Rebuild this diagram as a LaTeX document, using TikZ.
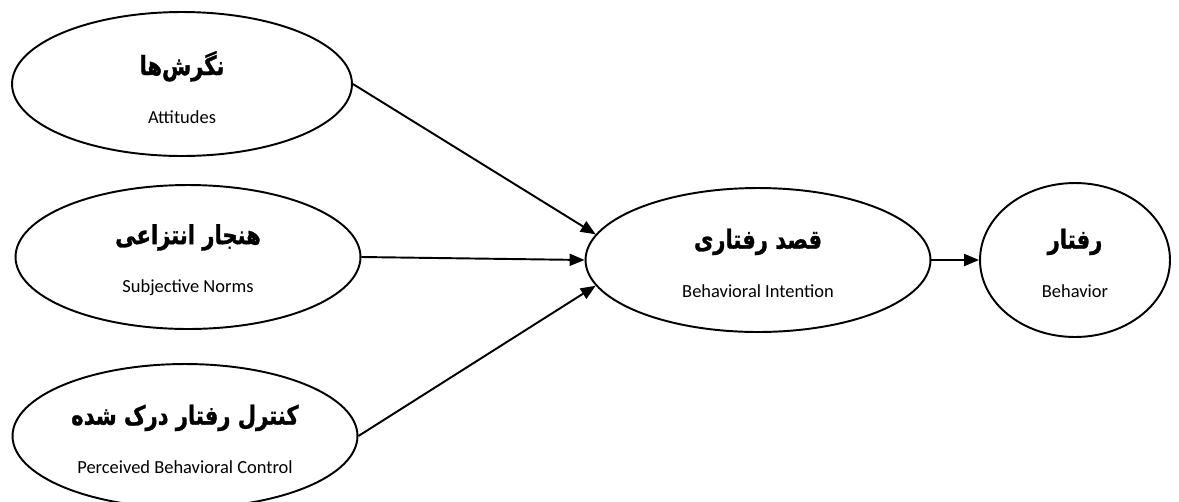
\documentclass[tikz,border=0pt]{standalone}
\usepackage{fontspec}
\setmainfont{Carlito}
\newfontfamily\fa[Script=Arabic,FakeStretch=0.8,BoldFeatures={FakeBold=1.2}]{DejaVu Sans}
\TeXXeTstate=1
\usetikzlibrary{shapes.geometric,arrows.meta}
\tikzset{
  oval/.style={draw, ellipse, line width=1.1pt, inner sep=0pt, align=center,
    minimum width=6.9cm, minimum height=2.88cm},
  link/.style={line width=1.1pt, -{Triangle[length=3mm,width=2.4mm]}}
}
\newcommand{\twolines}[2]{\\[1mm]{\fa\bfseries\fontsize{15}{17}\selectfont\beginR #1\endR}\\[5.5mm]{\fontsize{10.5}{12}\selectfont #2}}
\begin{document}
\begin{tikzpicture}[x=0.02cm, y=-0.02cm]
  \useasboundingbox (0,0) rectangle (1179,501);

  % Inputs
  \node[oval, minimum width=6.8cm] (att) at (182,84) {\twolines{نگرش‌ها}{Attitudes}};
  \node[oval] (norm) at (188,257) {\twolines{هنجار انتزاعی}{Subjective Norms}};
  \node[oval] (pbc) at (185,436) {\twolines{کنترل رفتار درک شده}{Perceived Behavioral Control}};

  % Intention and behavior
  \node[oval] (bi) at (758,260) {\twolines{قصد رفتاری}{Behavioral Intention}};
  \node[oval, minimum width=3.8cm, minimum height=3.08cm] (beh) at (1075,260) {\twolines{رفتار}{Behavior}};

  % Arrows
  \draw[link] (att.east) -- (bi.171);
  \draw[link] (norm.east) -- (bi.west);
  \draw[link] (pbc.east) -- (bi.189);
  \draw[link] (bi.east) -- (beh.west);
\end{tikzpicture}
\end{document}
